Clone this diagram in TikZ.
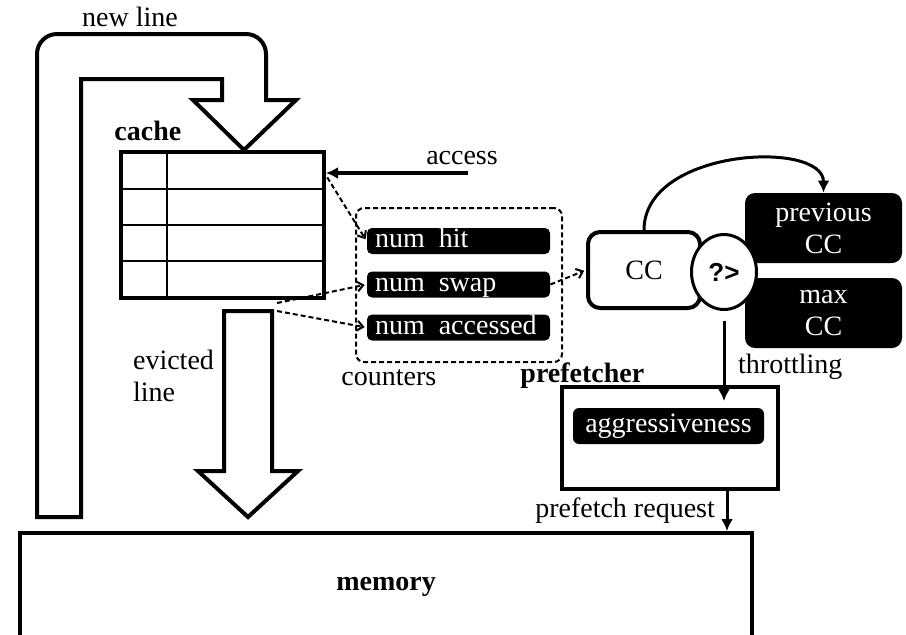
\documentclass[tikz,border=0pt]{standalone}
\usepackage{fontspec}
\setmainfont{Liberation Serif}
\setsansfont{Liberation Sans}
\usepackage{tikz}
\usetikzlibrary{matrix,shapes.geometric,arrows.meta}

\begin{document}
\begin{tikzpicture}[x=0.5pt,y=-0.5pt,
    font=\fontsize{14}{16}\selectfont,
    box/.style={draw,line width=2pt,inner sep=0pt},
    bar/.style={fill=black,text=white,rounded corners=2.5pt,inner xsep=4pt,inner ysep=0pt,
      text height=9.5pt,text depth=3pt},
    counter/.style={bar,minimum height=13pt,text width=83.5pt,align=left},
    darkbox/.style={fill=black,text=white,rounded corners=5pt,minimum width=78.5pt,
      minimum height=35pt,align=center,inner sep=0pt},
    bigarrow/.style={draw,line width=2pt,fill=white,line join=miter},
    signal/.style={-{Latex[length=6pt,width=6pt]},line width=1.5pt},
    probe/.style={-{Straight Barb[length=3pt,width=5pt]},line width=1pt,
      dash pattern=on 2.5pt off 1.5pt},
    title/.style={font=\fontsize{14}{16}\selectfont\bfseries}]

\useasboundingbox (0,0) rectangle (906,634);

% line coming back from memory into the cache
\draw[bigarrow] (81,517) -- (37,517) [rounded corners=10pt] -- (37,34) -- (266,34)
  [sharp corners] -- (266,100) -- (296,100) -- (244,150) -- (193,100) -- (222,100)
  -- (222,79) -- (81,79) -- cycle;
\node (newlbl) at (130,17) {new line};

% cache
\matrix (cache) [matrix of nodes, nodes in empty cells, draw, line width=2pt,
    inner sep=0pt, column sep=-1pt, row sep=-1pt,
    nodes={draw, line width=1pt, minimum height=18pt, inner sep=0pt, outer sep=0pt},
    column 1/.style={nodes={minimum width=22.5pt}},
    column 2/.style={nodes={minimum width=78pt}}] at (222.5,224.5) {
 & \\
 & \\
 & \\
 & \\
};
\node[title, anchor=base west, xshift=-5.8pt, yshift=4.5pt] (cachelbl) at (cache.north west) {cache};

\coordinate (accsrc) at (468,173);
\draw[signal, line width=2pt] (accsrc) -- (accsrc -| cache.east)
  node[pos=0, above, xshift=-3pt] {access};

% counters
\node[draw, rounded corners=4pt, line width=1pt, dash pattern=on 2.5pt off 1.5pt,
  minimum width=103pt, minimum height=77pt] (ctr) at (459,285) {};
\node[counter] (hit) at (458.5,241) {num\enspace hit};
\node[counter] (swap) at (458.5,284.5) {num\enspace swap};
\node[counter] (acc) at (458.5,327.5) {num\enspace accessed};
\node[anchor=north west, xshift=-10.3pt] (ctrlbl) at (ctr.south west) {counters};

% evicted line
\draw[bigarrow] (224,311) -- (272,311) -- (272,471) -- (298,471) -- (248,517)
  -- (198,471) -- (224,471) -- cycle;
\node[align=left, anchor=east] (evlbl) at (221,376) {evicted\\line};

\coordinate (evA) at (277,303);
\coordinate (evB) at (277,311);
\draw[probe, shorten >=1pt] (cache-1-2.east) -- (hit.west);
\draw[probe, shorten >=1pt] (evA) -- (swap.west);
\draw[probe, shorten >=1pt] (evB) -- (acc.west);

% comparator
\node[box, rounded corners=6pt, minimum width=56pt, minimum height=38pt] (cc) at (644,270) {CC};
\node[darkbox] (prev) at (823.5,228) {previous\\CC};
\node[darkbox] (max) at (823.5,313) {max\\CC};
\node[draw, ellipse, line width=1.5pt, fill=white, minimum width=32.5pt,
  minimum height=37.5pt, inner sep=0pt,
  font=\fontsize{13}{15}\selectfont\sffamily\bfseries] (cmp) at (724,272) {?>};

\draw[probe, shorten >=1pt] (swap.east) -- (cc.west);
\draw[signal] (cc.north) .. controls +(0,-82) and +(0,-53) .. (prev.north);

% prefetcher
\node[box, minimum width=108pt, minimum height=51pt] (pf) at (670,438) {};
\node[bar, minimum width=95.5pt, minimum height=18pt, rounded corners=3pt] (aggr)
  at (668.5,426) {aggressiveness};
\node[title, anchor=base west, xshift=-23.3pt, yshift=1.5pt] (pflbl) at (pf.north west) {prefetcher};

\path (cmp.south |- pf.north) coordinate (thrtop);
\draw[signal] ([yshift=-5pt]cmp.south) -- ([yshift=-8pt]thrtop)
  node[pos=0.57, anchor=west, xshift=3pt] {throttling};

% memory
\node[box, title, minimum width=366pt, minimum height=53.5pt] (mem) at (386,586.5) {memory};

\path (pf.south) ++(28.5pt,0) coordinate (reqtop);
\draw[signal] (reqtop) -- (reqtop |- mem.north)
  node[midway, left, xshift=-2pt] {prefetch request};

\end{tikzpicture}
\end{document}
